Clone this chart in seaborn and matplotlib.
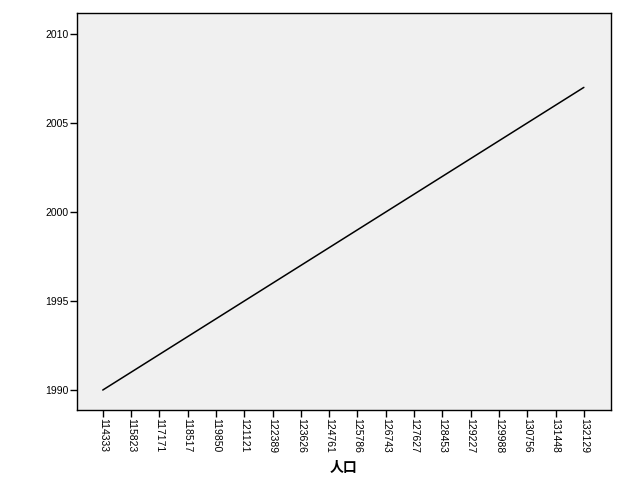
import numpy as np
import matplotlib
matplotlib.use("Agg")
import matplotlib.pyplot as plt
import seaborn as sns
import pandas as pd

population = ["114333", "115823", "117171", "118517", "119850", "121121",
              "122389", "123626", "124761", "125786", "126743", "127627",
              "128453", "129227", "129988", "130756", "131448", "132129"]
years = [1990, 1991, 1992, 1993, 1994, 1995, 1996, 1997, 1998, 1999,
         2000, 2001, 2002, 2003, 2004, 2005, 2006, 2007]
year_ticks = [1990, 1995, 2000, 2005, 2010]

sns.set_style("ticks")
plt.rcParams["font.family"] = ["Liberation Sans", "Noto Sans CJK SC", "DejaVu Sans"]
plt.rcParams["text.color"] = "black"
plt.rcParams["axes.labelcolor"] = "black"
plt.rcParams["xtick.color"] = "black"
plt.rcParams["ytick.color"] = "black"

df = pd.DataFrame({"pop": population, "year": years})

fig = plt.figure(figsize=(6.24, 4.99), dpi=100)
ax = fig.add_axes([0.1234, 0.1784, 0.8558, 0.7956])
ax.set_facecolor("#f0f0f0")
sns.lineplot(data=df, x="pop", y="year", color="black", linewidth=1.1, ax=ax)

ax.set_xlim(-0.91, 17.96)
ax.set_ylim(1988.88, 2011.18)
ax.set_yticks(year_ticks)
ax.set_yticklabels([str(y) for y in year_ticks], fontsize=7.5)
ax.tick_params(axis="x", labelrotation=270, labelsize=7.5, length=5, width=1, pad=1,
               colors="black")
ax.tick_params(axis="y", length=5, width=1, pad=1, colors="black")
for lab in ax.get_xticklabels():
    lab.set_va("top")
    lab.set_ha("center")

ax.set_ylabel("")
ax.set_xlabel("人口", family=["Noto Sans CJK SC"], fontsize=10, fontweight="bold",
              labelpad=5, color="black")
for s in ax.spines.values():
    s.set_visible(True)
    s.set_color("black")
    s.set_linewidth(1)

plt.savefig("out.png", dpi=100)
